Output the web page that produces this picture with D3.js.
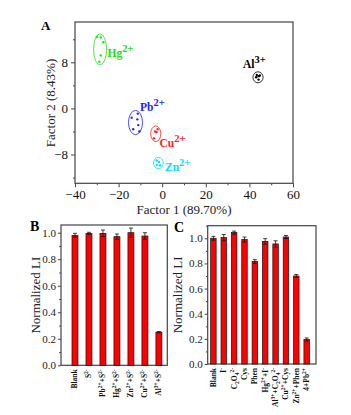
<!DOCTYPE html>
<html><head><meta charset="utf-8">
<script src="https://cdn.jsdelivr.net/npm/d3@7"></script>
<style>body{margin:0;background:#fff}svg{display:block}text{font-family:"Liberation Serif","DejaVu Serif",serif}</style>
</head><body><svg id="c" width="351" height="415"></svg>
<script>
// ---------- Panel A data (PCA scores) ----------
const groups = ["Hg","Al","Pb","Cu","Zn"];
const groupLabels = [["Hg","2+"],["Al","3+"],["Pb","2+"],["Cu","2+"],["Zn","2+"]];
const groupColors = ["#22dd22","#000000","#2222ff","#ff2222","#00e0ff"];
const hgX = [-30.0,-28.2,-27.0,-28.2,-28.8], hgY = [12.4,12.3,11.5,9.2,8.1];
const alX = [43.4,44.3,43.1,44.2,44.8],       alY = [5.8,5.6,5.4,5.0,5.7];
const pbX = [-11.2,-14.0,-11.4,-11.0,-13.3,-10.5], pbY = [-0.9,-1.6,-1.9,-2.9,-3.6,-4.0];
const cuX = [-3.3,-2.1,-3.8,-2.6], cuY = [-4.0,-3.6,-5.2,-4.1];
const znX = [-2.5,-1.5,-2.5,-1.0], znY = [-9.05,-9.3,-9.8,-9.9];
const groupX = [hgX,alX,pbX,cuX,znX], groupY = [hgY,alY,pbY,cuY,znY];
const aXTicks = [-40,-20,0,20,40,60], aYTicks = [-8,0,8];

// ---------- Panel B data ----------
const bCats = [["Blank"],["S","2-"],["Pb","2+","+S","2-"],["Hg","2+","+S","2-"],["Zn","2+","+S","2-"],["Cu","2+","+S","2-"],["Al","3+","+S","2-"]];
const bVals = [0.98,0.995,0.995,0.97,1.0,0.975,0.25];
const bErr  = [0.015,0.008,0.025,0.02,0.035,0.025,0.005];
// ---------- Panel C data ----------
const cCats = [["Blank"],["I","-"],["C","_2","O","_4","2-"],["Cys"],["Phen"],["Hg","2+","+I","-"],["Al","3+","+C","_2","O","_4","2-"],["Cu","2+","+Cys"],["Zn","2+","+Phen"],["4+Pb","2+"]];
const cVals = [1.0,1.005,1.045,0.99,0.815,0.975,0.955,1.01,0.70,0.195];
const cErr  = [0.015,0.025,0.012,0.02,0.015,0.022,0.025,0.012,0.012,0.012];
const yTicksBC = [0,0.2,0.4,0.6,0.8,1.0];

const svg = d3.select("#c");
const frameCol = "#444";
const FF = '"Liberation Serif","DejaVu Serif",serif';

// ---------------- Panel A ----------------
const ax = d3.scaleLinear().domain([-40,60]).range([75,293]);
const ay = d3.scaleLinear().domain([-13,15]).range([183.3,22]);
const A = svg.append("g");
A.append("rect").attr("x",75).attr("y",22).attr("width",218).attr("height",161.3)
  .attr("fill","none").attr("stroke",frameCol).attr("stroke-width",1.2);
A.append("g").attr("transform","translate(0,183.3)")
  .call(d3.axisBottom(ax).tickValues(aXTicks).tickSize(4).tickPadding(2).tickFormat(d3.format("d")));
A.append("g").attr("transform","translate(0,183.3)")
  .call(d3.axisBottom(ax).tickValues(d3.range(-30,60,20)).tickSize(2).tickFormat(""));
A.append("g").attr("transform","translate(75,0)")
  .call(d3.axisLeft(ay).tickValues(aYTicks).tickSize(4).tickPadding(3).tickFormat(d3.format("d")));
A.append("g").attr("transform","translate(75,0)")
  .call(d3.axisLeft(ay).tickValues([-12,-4,4,12]).tickSize(2).tickFormat(""));
A.selectAll(".domain").remove();
A.selectAll(".tick line").attr("stroke",frameCol);
A.selectAll(".tick text").attr("font-size",13).attr("fill","#111").style("font-family",FF);
A.append("text").attr("x",184).attr("y",214).attr("text-anchor","middle").attr("font-size",13).attr("fill","#222").text("Factor 1 (89.70%)");
A.append("text").attr("transform","translate(55,103) rotate(-90)").attr("text-anchor","middle").attr("font-size",13).attr("fill","#222").text("Factor 2 (8.43%)");
A.append("text").attr("x",41).attr("y",30).attr("font-size",13).attr("font-weight","bold").text("A");

const labelPos = [[107.5,57],[243,67.5],[140,110.5],[159.5,146.5],[165,170.5]];
groups.forEach((g,i)=>{
  const pts = groupX[i].map((x,j)=>[ax(x),ay(groupY[i][j])]);
  const ex = d3.extent(pts,p=>p[0]), ey = d3.extent(pts,p=>p[1]);
  const pad = 3.2;
  A.append("ellipse").attr("cx",(ex[0]+ex[1])/2).attr("cy",(ey[0]+ey[1])/2)
    .attr("rx",(ex[1]-ex[0])/2+pad).attr("ry",(ey[1]-ey[0])/2+pad)
    .attr("fill","none").attr("stroke",groupColors[i]).attr("stroke-width",0.8);
  A.selectAll(null).data(pts).enter().append("circle").attr("cx",p=>p[0]).attr("cy",p=>p[1]).attr("r",1.2).attr("fill",groupColors[i]);
  const t = A.append("text").attr("x",labelPos[i][0]).attr("y",labelPos[i][1]).attr("font-size",11.5).attr("font-weight","bold").attr("fill",groupColors[i]);
  t.append("tspan").text(groupLabels[i][0]);
  t.append("tspan").attr("dy",-5).attr("font-size",10.5).text(groupLabels[i][1]);
});

// ---------------- Bar panels ----------------
function richLabel(sel, parts){
  let shift = 0;
  parts.forEach((p)=>{
    let dy = 0, txt = p, fs = null;
    if (p.startsWith("_")) { txt = p.slice(1); dy = 2 - shift; shift = 2; fs = 5.5; }
    else if (/^[0-9]*[+-]$/.test(p)) { dy = -3 - shift; shift = -3; fs = 5.5; }
    else { dy = -shift; shift = 0; }
    const ts = sel.append("tspan").attr("dy",dy).text(txt);
    if (fs) ts.attr("font-size",fs);
  });
}

function barPanel(opt){
  const g = svg.append("g");
  const x = d3.scaleLinear().domain(opt.xd).range([opt.l,opt.r]);
  const y = d3.scaleLinear().domain(opt.yd).range([opt.b,opt.t]);
  g.append("rect").attr("x",opt.l).attr("y",opt.t).attr("width",opt.r-opt.l).attr("height",opt.b-opt.t)
    .attr("fill","none").attr("stroke",frameCol).attr("stroke-width",1.2);
  g.append("g").attr("transform",`translate(${opt.l},0)`)
    .call(d3.axisLeft(y).tickValues(yTicksBC).tickSize(3).tickPadding(2).tickFormat(d3.format(".1f")));
  g.append("g").attr("transform",`translate(${opt.l},0)`)
    .call(d3.axisLeft(y).tickValues([0.1,0.3,0.5,0.7,0.9].concat(opt.yd[1]>1.08?[1.1]:[])).tickSize(1.8).tickFormat(""));
  g.selectAll(".domain").remove();
  g.selectAll(".tick line").attr("stroke",frameCol);
  g.selectAll(".tick text").attr("font-size",11).attr("fill","#222").style("font-family",FF);
  const idx = d3.range(1,opt.vals.length+1);
  g.selectAll(null).data(opt.vals).enter().append("rect")
    .attr("x",(d,i)=>x(idx[i])-opt.bw/2).attr("y",d=>y(d)).attr("width",opt.bw).attr("height",d=>y(0)-y(d))
    .attr("fill","#ff0000").attr("stroke","#111").attr("stroke-width",0.7);
  opt.vals.forEach((v,i)=>{
    const cx = x(idx[i]), e = opt.err[i];
    g.append("line").attr("x1",cx).attr("x2",cx).attr("y1",y(v-e)).attr("y2",y(v+e)).attr("stroke","#111").attr("stroke-width",0.8);
    [v-e,v+e].forEach(q=>g.append("line").attr("x1",cx-2).attr("x2",cx+2).attr("y1",y(q)).attr("y2",y(q)).attr("stroke","#111").attr("stroke-width",0.8));
    const t = g.append("text").attr("transform",`translate(${cx+2.5},${opt.b+4}) rotate(-90)`)
      .attr("text-anchor","end").attr("font-size",7.5).attr("font-weight","bold").attr("fill","#111");
    richLabel(t, opt.cats[i]);
  });
  g.append("text").attr("transform",`translate(${opt.titleX},${(opt.t+opt.b)/2}) rotate(-90)`)
    .attr("text-anchor","middle").attr("font-size",13).attr("fill","#222").text("Normalized LI");
  g.append("text").attr("x",opt.letter[0]).attr("y",opt.letter[1]).attr("font-size",14).attr("font-weight","bold").text(opt.letterT);
}

barPanel({l:61,r:167.3,t:225,b:365.3,xd:[0,7.6],yd:[0,1.058],vals:bVals,err:bErr,cats:bCats,bw:6,titleX:40,letter:[30,231],letterT:"B"});
barPanel({l:207.7,r:316,t:225.7,b:364,xd:[0.45,10.9],yd:[0,1.1],vals:cVals,err:cErr,cats:cCats,bw:5.5,titleX:182,letter:[174,232],letterT:"C"});
</script></body></html>
